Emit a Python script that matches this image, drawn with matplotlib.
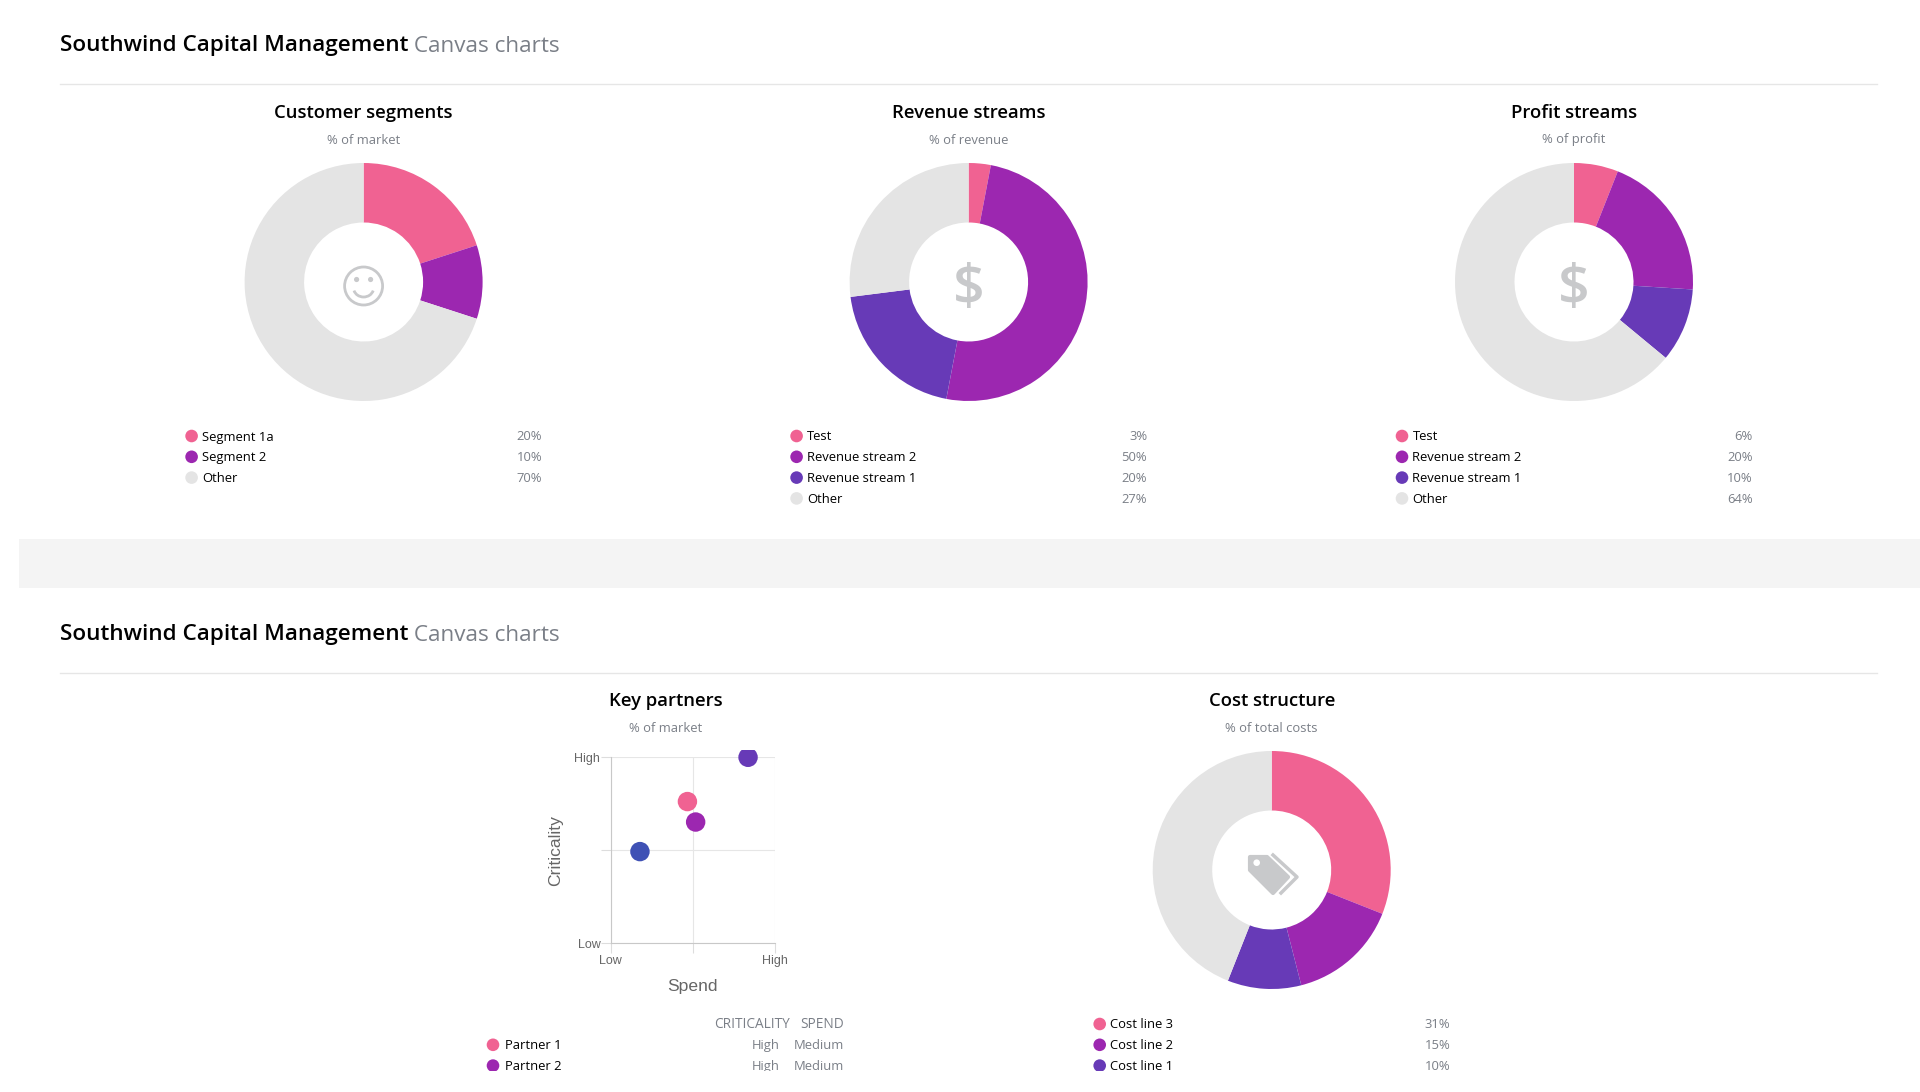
import matplotlib
matplotlib.use('Agg')
import matplotlib.pyplot as plt
from matplotlib.patches import Circle, Polygon, Rectangle, Arc

plt.rcParams['font.family'] = ['Open Sans', 'DejaVu Sans']

PINK = '#f06292'
PURPLE = '#9c27b0'
VIOLET = '#673ab7'
BLUE = '#3f51b5'
GREY = '#e4e4e4'
ICON = '#c8c9cb'
MUTED = '#7a7f87'

W, H = 1920, 1092
VISIBLE_H = 1071  # the bottom table is cut off here

segment_labels = ['Segment 1a', 'Segment 2', 'Other']
segment_values = [20, 10, 70]
segment_colors = [PINK, PURPLE, GREY]

revenue_labels = ['Test', 'Revenue stream 2', 'Revenue stream 1', 'Other']
revenue_values = [3, 50, 20, 27]
revenue_colors = [PINK, PURPLE, VIOLET, GREY]

profit_labels = ['Test', 'Revenue stream 2', 'Revenue stream 1', 'Other']
profit_values = [6, 20, 10, 64]
profit_colors = [PINK, PURPLE, VIOLET, GREY]

cost_labels = ['Cost line 3', 'Cost line 2', 'Cost line 1']
cost_values = [31, 15, 10, 44]
cost_colors = [PINK, PURPLE, VIOLET, GREY]

partner_spend = [0.467, 0.517, 0.836, 0.178]
partner_criticality = [0.762, 0.652, 1.0, 0.493]
partner_colors = [PINK, PURPLE, VIOLET, BLUE]
partner_rows = ['Partner 1', 'Partner 2']
partner_crit_text = ['High', 'High']
partner_spend_text = ['Medium', 'Medium']

fig = plt.figure(figsize=(19.2, 10.92), dpi=100, facecolor='white')

# page layer in pixel coordinates, for headings, legends and icons
page = fig.add_axes([0, (H - VISIBLE_H) / H, 1, VISIBLE_H / H])
page.set_xlim(0, W)
page.set_ylim(VISIBLE_H, 0)
page.axis('off')


def label(x, y, s, size, color='black', ha='left', weight='normal', family=None, rotation=0):
    return page.text(x, y, s, fontsize=size, color=color, ha=ha, va='center',
                     fontweight=weight, family=family, rotation=rotation, clip_on=True)


def header(y, rule_y):
    t = label(60, y, 'Southwind Capital Management', 16.2, weight='semibold')
    page.annotate(' Canvas charts', xy=(1, 0), xycoords=t, xytext=(0, -1),
                  textcoords='offset points', va='bottom', ha='left',
                  fontsize=16.2, color=MUTED)
    page.plot([60, 1877], [rule_y, rule_y], color='#e6e6e6', lw=1)


def chart_head(cx, y, title, sub):
    label(cx, y, title, 13.3, ha='center', weight='semibold')
    label(cx, y + 27, sub, 9.4, color=MUTED, ha='center')


def donut(cx, cy, values, colors):
    r = 119
    ax = fig.add_axes([(cx - r - 1) / W, (H - cy - r - 1) / H, (2 * r + 2) / W, (2 * r + 2) / H])
    ax.pie(values, colors=colors, startangle=90, counterclock=False, radius=1,
           wedgeprops={'width': 0.5, 'linewidth': 0})
    lim = (r + 1) / r
    ax.set_xlim(-lim, lim)
    ax.set_ylim(-lim, lim)


def legend(cx, y0, labels, values, colors):
    for i, name in enumerate(labels):
        y = y0 + i * 20.8
        page.add_patch(Circle((cx - 172, y - 1), 6.3, color=colors[i], lw=0))
        label(cx - 161.5, y, name, 9.4)
        label(cx + 178.5, y, '%d%%' % values[i], 9.4, color=MUTED, ha='right')


def smiley(cx, cy):
    page.add_patch(Circle((cx, cy), 19, fill=False, ec=ICON, lw=2))
    page.add_patch(Circle((cx - 7, cy - 6.5), 2.6, color=ICON, lw=0))
    page.add_patch(Circle((cx + 7, cy - 6.5), 2.6, color=ICON, lw=0))
    # y axis runs downwards, so this arc is the lower half
    page.add_patch(Arc((cx, cy + 2), 20, 18, theta1=15, theta2=165, ec=ICON, lw=2))


def dollar(cx, cy):
    label(cx, cy, '$', 40, color=ICON, ha='center', weight='semibold')


def tag():
    page.add_patch(Polygon([(1250, 857), (1267, 857), (1288, 877), (1273, 893), (1250, 870)],
                           closed=True, fc=ICON, ec=ICON, lw=3, joinstyle='round'))
    page.add_patch(Circle((1256.7, 862.7), 3.3, color='white', lw=0))
    page.plot([1273, 1297, 1281], [855, 877, 893], color=ICON, lw=2.5, solid_joinstyle='round')


page.add_patch(Rectangle((19, 538.5), W - 19, 49.5, color='#f4f4f4', lw=0))

header(45, 84)
header(634.5, 673)

# top row
chart_head(363.6, 113, 'Customer segments', '% of market')
donut(363.6, 282, segment_values, segment_colors)
smiley(363.6, 286)
legend(363.6, 437, segment_labels, segment_values, segment_colors)

chart_head(968.6, 113, 'Revenue streams', '% of revenue')
donut(968.6, 282, revenue_values, revenue_colors)
dollar(968.6, 290)
legend(968.6, 437, revenue_labels, revenue_values, revenue_colors)

chart_head(1574, 113, 'Profit streams', '% of profit')
donut(1574, 282, profit_values, profit_colors)
dollar(1574, 290)
legend(1574, 437, profit_labels, profit_values, profit_colors)

# bottom row
chart_head(1271.7, 701.5, 'Cost structure', '% of total costs')
donut(1271.7, 870, cost_values, cost_colors)
tag()
legend(1271.7, 1025, cost_labels, cost_values, cost_colors)

chart_head(666, 701, 'Key partners', '% of market')
left, right, top, bottom = 610.7, 775, 757.3, 943.3
ax = fig.add_axes([left / W, (H - bottom) / H, (right - left) / W, (bottom - top) / H])
ax.set_xlim(0, 1)
ax.set_ylim(0, 1)
ax.set_xticks([0, 0.5, 1], ['Low', '', 'High'])
ax.set_yticks([0, 0.5, 1], ['Low', '', 'High'])
ax.tick_params(length=7.5, width=0.8, color='#dddddd', labelsize=9, labelcolor='#666666', pad=1)
ax.tick_params(axis='y', pad=0)
for t in ax.get_xticklabels() + ax.get_yticklabels():
    t.set_family('Liberation Sans')
ax.grid(color='#e6e6e6', lw=0.8)
ax.set_axisbelow(True)
for side in ['top', 'right']:
    ax.spines[side].set_visible(False)
for side in ['left', 'bottom']:
    ax.spines[side].set_color('#c8c8c8')
pts = ax.scatter(partner_spend, partner_criticality, s=196, c=partner_colors, linewidths=0, zorder=3)
# top dot runs past the plot, only a few pixels of it show above
pts.set_clip_path(Rectangle((-0.1, 0), 1.2, 1.04, transform=ax.transData))
ax.set_xlabel('Spend', fontsize=12.6, color='#666666', family='Liberation Sans', labelpad=8.5)
ax.set_ylabel('Criticality', fontsize=12.6, color='#666666', family='Liberation Sans', labelpad=8)

label(790, 1025, 'CRITICALITY', 9.8, color=MUTED, ha='right')
label(844, 1025, 'SPEND', 9.8, color=MUTED, ha='right')
for i, name in enumerate(partner_rows):
    y = 1045.8 + i * 20.8
    page.add_patch(Circle((493, y - 1), 6.3, color=partner_colors[i], lw=0))
    label(505, y, name, 9.4)
    label(780, y, partner_crit_text[i], 9.4, color=MUTED, ha='right')
    label(844, y, partner_spend_text[i], 9.4, color=MUTED, ha='right')

fig.savefig('out.png', dpi=100)
